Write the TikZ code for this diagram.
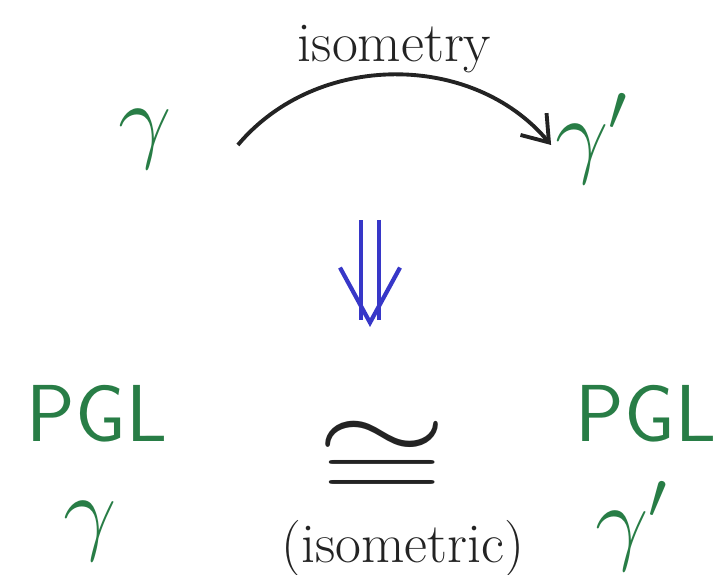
\RequirePackage{fix-cm}
\documentclass[tikz,border=0pt]{standalone}
\usepackage{fontspec}
\usepackage{xcolor}
\usepackage{tikz}
\usetikzlibrary{arrows.meta, positioning}

\definecolor{penGreen}{RGB}{40,125,70}
\definecolor{penBlue}{RGB}{55,55,200}
\definecolor{penBlack}{RGB}{35,35,35}

\tikzset{
  grk/.style={text=penGreen, inner sep=1pt, font=\fontsize{27}{29}\selectfont},
  grp/.style={text=penGreen, inner sep=1pt, font=\sffamily\fontsize{23}{25}\selectfont},
  note/.style={text=penBlack, inner sep=1pt, font=\fontsize{16}{18}\selectfont}
}

\begin{document}
\begin{tikzpicture}
      % frame
      \useasboundingbox (0,0) rectangle (7.16,5.75);

      % top row
      \node[grk] (gam) at (1.45,4.36) {$\gamma$};
      \node[grk] (gamp) at (5.92,4.36) {$\gamma'$};

      % isometry arrow
      \draw[penBlack, line width=1.1pt, -{Straight Barb[length=2.4mm, width=3.4mm]}]
        ([xshift=0.62cm,yshift=-0.06cm]gam.east) to[bend left=50]
        node[note, anchor=south, pos=0.5, yshift=-1pt] (iso) {isometry}
        ([xshift=0.0cm,yshift=-0.06cm]gamp.west);

      % implication
      \coordinate (impTop) at (3.70,3.55);
      \coordinate (impBot) at (3.70,2.48);
      \draw[penBlue, line width=1.2pt, double, double distance=1.4mm,
            -{Straight Barb[length=5.5mm, width=6mm]}] (impTop) -- (impBot);

      % bottom row
      \node[grp] (pglL) at (0.97,1.61) {PGL};
      \node[grk] (gamL) at (0.90,0.44) {$\gamma$};
      \node[grp] (pglR) at (6.46,1.61) {PGL};
      \node[grk] (gamR) at (6.32,0.49) {$\gamma'$};

      \node[text=penBlack, inner sep=0pt, font=\fontsize{32}{34}\selectfont] (cong) at (3.82,1.14) {\scalebox{1.5}[1]{$\cong$}};
      \node[note] (isom) at (4.03,0.27) {(isometric)};
    \end{tikzpicture}
\end{document}
